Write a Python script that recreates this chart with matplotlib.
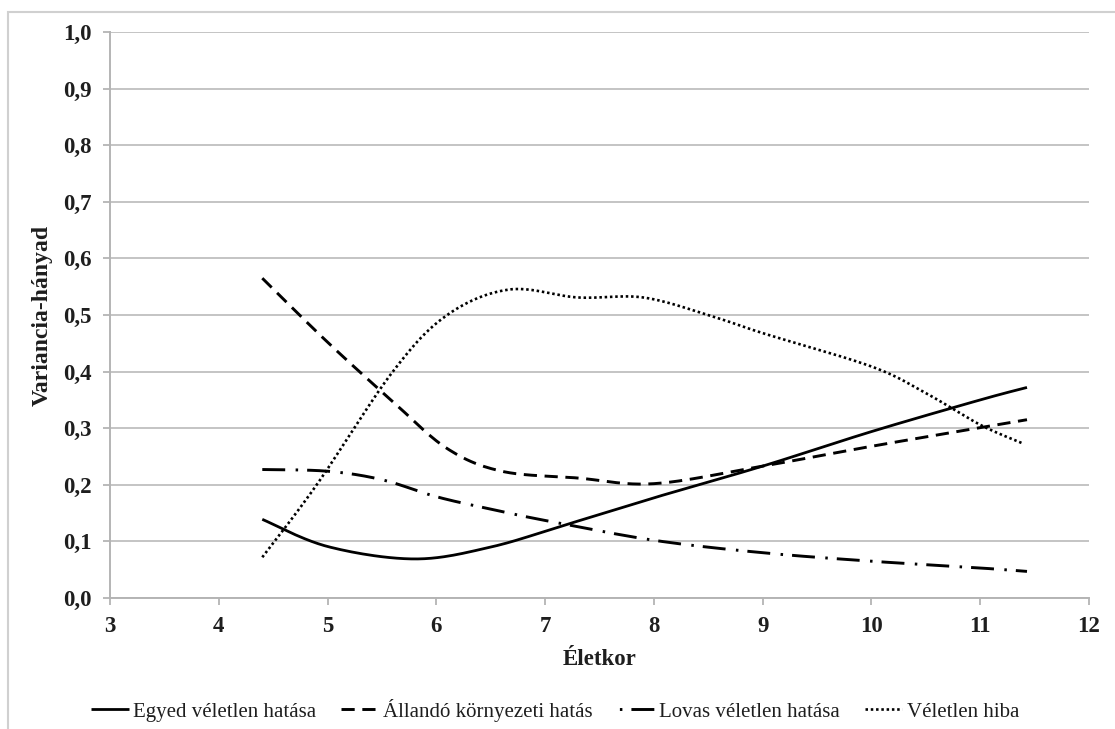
import numpy as np
import matplotlib.pyplot as plt
from matplotlib.patches import Rectangle

# ages and variance proportions
age_egyed = [4.4, 5.0, 5.8, 6.5, 7.2, 8.0, 9.0, 10.0, 11.0, 11.43]
egyed = [0.139, 0.091, 0.069, 0.090, 0.130, 0.177, 0.233, 0.294, 0.350, 0.372]

age_allando = [4.4, 5.0, 5.6, 6.1, 6.6, 7.3, 8.0, 9.0, 10.0, 11.0, 11.43]
allando = [0.565, 0.452, 0.347, 0.264, 0.224, 0.212, 0.202, 0.233, 0.268, 0.301, 0.315]

age_lovas = [4.4, 5.0, 5.5, 6.0, 6.5, 7.0, 8.0, 9.0, 10.0, 11.0, 11.43]
lovas = [0.227, 0.224, 0.209, 0.179, 0.157, 0.137, 0.102, 0.080, 0.065, 0.053, 0.047]

age_hiba = [4.4, 4.9, 5.6, 6.1, 6.67, 7.3, 7.9, 8.5, 9.0, 10.0, 10.5, 11.0, 11.38]
hiba = [0.072, 0.200, 0.400, 0.500, 0.545, 0.531, 0.531, 0.500, 0.468, 0.409, 0.362, 0.306, 0.274]

labels = ['Egyed véletlen hatása', 'Állandó környezeti hatás',
          'Lovas véletlen hatása', 'Véletlen hiba']
y_ticks = np.arange(0, 1.01, 0.1)
x_ticks = list(range(3, 13))


def smooth(x, y, n=25):
    # excel style smoothed line: bezier segments with catmull-rom tangents
    p = np.column_stack([x, y]).astype(float)
    out = []
    for i in range(len(p) - 1):
        p0 = p[i - 1] if i > 0 else p[i]
        p1, p2 = p[i], p[i + 1]
        p3 = p[i + 2] if i + 2 < len(p) else p[i + 1]
        c1 = p1 + (p2 - p0) / 6
        c2 = p2 - (p3 - p1) / 6
        t = np.linspace(0, 1, n)[:, None]
        seg = ((1 - t) ** 3) * p1 + 3 * ((1 - t) ** 2) * t * c1 + 3 * (1 - t) * t ** 2 * c2 + t ** 3 * p2
        out.append(seg if i == 0 else seg[1:])
    out = np.vstack(out)
    return out[:, 0], out[:, 1]


plt.rcParams['font.family'] = ['Liberation Serif', 'DejaVu Serif']
plt.rcParams['lines.scale_dashes'] = False
txt = '#1e1e1e'

fig = plt.figure(figsize=(11.15, 7.29), dpi=100)
ax = fig.add_axes([110 / 1115, 1 - 598 / 729, 979 / 1115, 566 / 729])

dashdot = (16.5, 7.5, 1.8, 6.5)
styles = [
    dict(linestyle='-', linewidth=2.0),
    dict(linestyle=(0, (9.5, 5.5)), linewidth=2.1),
    dict(linestyle=(0, dashdot), linewidth=2.1),
    dict(linestyle=(0, (1.8, 2.0)), linewidth=1.9),
]
series = [(age_egyed, egyed), (age_allando, allando), (age_lovas, lovas), (age_hiba, hiba)]
for (xs, ys), st, lab in zip(series, styles, labels):
    sx, sy = smooth(xs, ys)
    ax.plot(sx, sy, color='black', label=lab, solid_capstyle='butt', dash_capstyle='butt', **st)

ax.set_xlim(3, 12)
ax.set_ylim(0, 1.0)
ax.set_xticks(x_ticks)
ax.set_yticks(y_ticks)
ax.set_yticklabels([f'{v:.1f}'.replace('.', ',') for v in y_ticks])
ax.grid(axis='y', color='#c4c4c4', linewidth=1.4)
ax.set_axisbelow(True)
for s in ['top', 'right']:
    ax.spines[s].set_visible(False)
for s in ['left', 'bottom']:
    ax.spines[s].set_color('#b4b4b4')
    ax.spines[s].set_linewidth(1.4)
ax.tick_params(length=5, width=1.3, color='#b4b4b4', labelsize=16.5, labelcolor=txt, pad=8)
for lb in ax.get_xticklabels() + ax.get_yticklabels():
    lb.set_fontweight('bold')

ax.set_xlabel('Életkor', fontsize=16.5, fontweight='bold', color=txt, va='center')
ax.xaxis.set_label_coords(0.5, -0.108)
ax.set_ylabel('Variancia-hányad', fontsize=17, fontweight='bold', color=txt, va='center')
ax.yaxis.set_label_coords(-0.0695, 0.5)

leg = fig.legend(loc='center', bbox_to_anchor=(0.498, 0.026), ncol=4, frameon=False,
                 fontsize=15, handlelength=1.8, handletextpad=0.2, columnspacing=1.2,
                 labelcolor=txt)
# legend sample for the dash-dot series starts with the dot, as in the original
leg.get_lines()[2].set_linestyle((23, dashdot))

fig.patches.append(Rectangle((8 / 1115, -0.1), 1.2, 1.1 - 12 / 729, transform=fig.transFigure,
                             fill=False, edgecolor='#d0d0d0', linewidth=1.5))

fig.savefig('out.png', dpi=100)
